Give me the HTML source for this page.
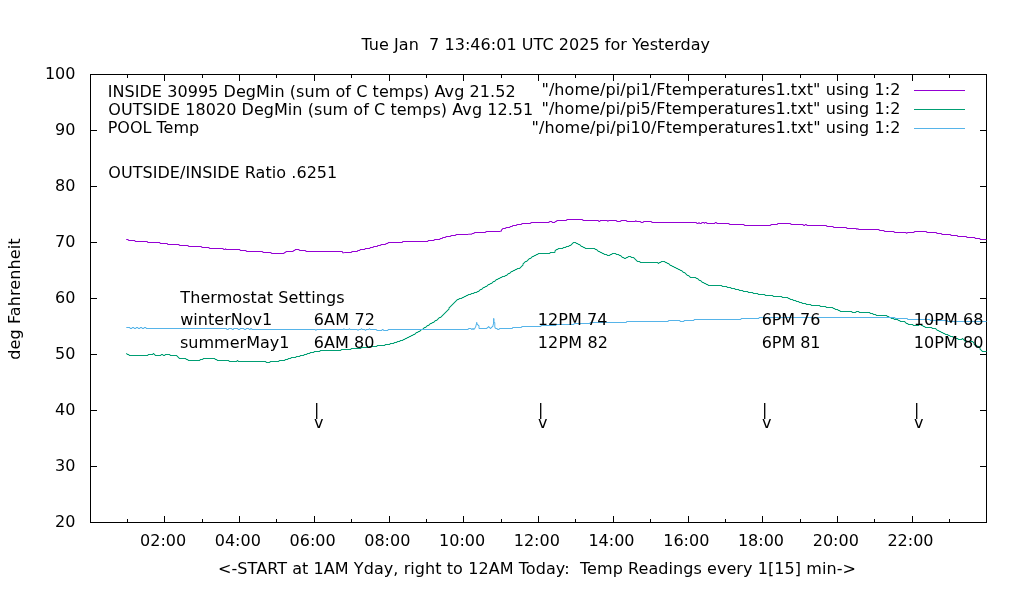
<!DOCTYPE html>
<html><head><meta charset="utf-8"><title>Temperatures</title>
<style>
html,body{margin:0;padding:0;background:#fff;}
svg{display:block}
text{font-family:"DejaVu Sans","Liberation Sans",sans-serif;font-size:16px;fill:#000;white-space:pre}
</style></head><body>
<svg width="1020" height="600" viewBox="0 0 1020 600">
<rect width="1020" height="600" fill="#fff"/>
<g shape-rendering="auto">
<rect x="90.5" y="74.5" width="896.0" height="448.0" fill="none" stroke="#000" stroke-width="1"/>
<path d="M90.5,74.5h6.5M986.5,74.5h-6.5M90.5,130.5h6.5M986.5,130.5h-6.5M90.5,186.5h6.5M986.5,186.5h-6.5M90.5,242.5h6.5M986.5,242.5h-6.5M90.5,298.5h6.5M986.5,298.5h-6.5M90.5,354.5h6.5M986.5,354.5h-6.5M90.5,410.5h6.5M986.5,410.5h-6.5M90.5,466.5h6.5M986.5,466.5h-6.5M90.5,522.5h6.5M986.5,522.5h-6.5M127.5,522.5v-3.5M127.5,74.5v3.5M164.5,522.5v-6.5M164.5,74.5v6.5M202.5,522.5v-3.5M202.5,74.5v3.5M239.5,522.5v-6.5M239.5,74.5v6.5M276.5,522.5v-3.5M276.5,74.5v3.5M314.5,522.5v-6.5M314.5,74.5v6.5M351.5,522.5v-3.5M351.5,74.5v3.5M389.5,522.5v-6.5M389.5,74.5v6.5M426.5,522.5v-3.5M426.5,74.5v3.5M463.5,522.5v-6.5M463.5,74.5v6.5M501.5,522.5v-3.5M501.5,74.5v3.5M538.5,522.5v-6.5M538.5,74.5v6.5M575.5,522.5v-3.5M575.5,74.5v3.5M613.5,522.5v-6.5M613.5,74.5v6.5M650.5,522.5v-3.5M650.5,74.5v3.5M688.5,522.5v-6.5M688.5,74.5v6.5M725.5,522.5v-3.5M725.5,74.5v3.5M762.5,522.5v-6.5M762.5,74.5v6.5M800.5,522.5v-3.5M800.5,74.5v3.5M837.5,522.5v-6.5M837.5,74.5v6.5M874.5,522.5v-3.5M874.5,74.5v3.5M912.5,522.5v-6.5M912.5,74.5v6.5M949.5,522.5v-3.5M949.5,74.5v3.5" stroke="#000" stroke-width="1" fill="none"/>
<polyline points="126.2,239.5 128.3,239.5 128.3,240.5 135.0,240.5 135.0,241.5 147.5,241.5 147.5,242.5 160.0,242.5 160.0,243.5 167.5,243.5 167.5,244.5 179.2,244.5 179.2,245.5 188.3,245.5 188.3,246.5 201.7,246.5 201.7,247.5 209.2,247.5 209.2,248.5 223.3,248.5 223.3,249.5 225.3,249.5 225.3,248.7 225.8,248.7 225.8,249.5 240.0,249.5 240.0,250.5 246.2,250.5 246.2,251.5 262.8,251.5 262.8,252.5 271.2,252.5 271.2,253.5 284.2,253.5 284.2,252.5 285.8,252.5 285.8,251.5 293.3,251.5 293.3,250.5 295.0,250.5 295.0,249.5 299.2,249.5 299.2,250.5 305.8,250.5 305.8,251.5 342.5,251.5 342.5,252.8 344.2,252.8 344.2,252.5 351.7,252.5 351.7,251.5 357.5,251.5 357.5,250.5 360.0,250.5 360.0,249.5 365.0,249.5 365.0,248.5 370.0,248.5 370.0,247.5 373.3,247.5 373.3,246.5 377.5,246.5 377.5,245.5 380.8,245.5 380.8,244.5 385.8,244.5 385.8,243.5 388.0,243.5 388.0,242.5 402.5,242.5 402.5,241.5 428.0,241.5 428.0,240.5 434.2,240.5 434.2,239.5 440.0,239.5 440.0,238.5 442.5,238.5 442.5,237.5 445.8,237.5 445.8,236.5 450.8,236.5 450.8,235.5 455.8,235.5 455.8,234.5 468.3,234.5 468.3,234.2 472.0,234.2 472.0,233.5 474.2,233.5 474.2,232.5 485.8,232.5 485.8,231.5 500.0,231.5 500.0,231.2 501.5,231.2 501.5,229.5 502.5,229.5 502.5,228.5 505.8,228.5 505.8,227.5 510.0,227.5 510.0,226.5 512.5,226.5 512.5,225.5 516.7,225.5 516.7,224.5 521.7,224.5 521.7,223.5 530.8,223.5 530.8,222.5 549.2,222.5 549.2,221.5 552.0,221.5 552.0,222.5 555.0,222.5 555.0,221.5 556.7,221.5 556.7,220.5 566.7,220.5 566.7,219.5 582.8,219.5 582.8,220.5 598.6,220.5 598.6,221.5 600.0,221.5 600.0,220.5 607.5,220.5 607.5,221.3 608.3,221.3 608.3,220.5 616.7,220.5 616.7,221.5 620.8,221.5 620.8,220.5 626.7,220.5 626.7,221.5 635.5,221.5 635.5,220.7 636.2,220.7 636.2,221.5 640.8,221.5 640.8,222.5 643.3,222.5 643.3,221.5 651.7,221.5 651.7,222.5 696.7,222.5 696.7,223.5 698.5,223.5 698.5,222.7 699.5,222.7 699.5,223.5 701.7,223.5 701.7,222.5 704.0,222.5 704.0,223.3 704.8,223.3 704.8,222.5 706.7,222.5 706.7,223.5 715.0,223.5 715.0,222.5 716.7,222.5 716.7,223.5 729.2,223.5 729.2,224.5 744.2,224.5 744.2,225.5 770.8,225.5 770.8,224.5 777.5,224.5 777.5,223.5 790.8,223.5 790.8,224.5 803.3,224.5 803.3,225.5 805.0,225.5 805.0,224.5 806.7,224.5 806.7,225.5 826.7,225.5 826.7,226.5 833.3,226.5 833.3,227.5 846.7,227.5 846.7,228.5 856.5,228.5 856.5,229.3 857.3,229.3 857.3,228.7 858.3,228.7 858.3,229.5 879.2,229.5 879.2,230.5 884.2,230.5 884.2,231.5 894.2,231.5 894.2,232.5 906.2,232.5 906.2,233.3 907.2,233.3 907.2,232.5 914.2,232.5 914.2,231.5 926.7,231.5 926.7,232.5 936.7,232.5 936.7,233.5 941.7,233.5 941.7,234.5 950.8,234.5 950.8,235.5 957.5,235.5 957.5,236.5 966.7,236.5 966.7,237.5 975.0,237.5 975.0,238.5 980.0,238.5 980.0,239.5 986.5,239.5" fill="none" stroke="#9400d3" stroke-width="1"/>
<polyline points="126.3,353.5 127.0,353.5 127.0,354.5 129.0,354.5 129.0,355.5 148.0,355.5 148.0,354.5 153.0,354.5 153.0,353.5 154.0,353.5 154.0,354.5 155.0,354.5 155.0,355.5 161.0,355.5 161.0,354.5 163.0,354.5 163.0,355.5 165.0,355.5 165.0,354.5 170.0,354.5 170.0,355.5 177.0,355.5 177.0,356.5 178.0,356.5 178.0,357.5 179.0,357.5 179.0,358.5 186.0,358.5 186.0,359.5 188.0,359.5 188.0,360.5 200.0,360.5 200.0,359.5 203.0,359.5 203.0,358.5 215.0,358.5 215.0,359.5 217.0,359.5 217.0,360.5 229.0,360.5 229.0,361.5 237.0,361.5 237.0,360.5 238.0,360.5 238.0,361.5 266.0,361.5 266.0,362.5 270.0,362.5 270.0,361.5 279.0,361.5 279.0,360.5 285.0,360.5 285.0,359.5 288.0,359.5 288.0,358.5 291.0,358.5 291.0,357.5 296.0,357.5 296.0,356.5 300.0,356.5 300.0,355.5 304.0,355.5 304.0,354.5 307.0,354.5 307.0,353.5 310.0,353.5 310.0,352.5 314.0,352.5 314.0,351.5 320.0,351.5 320.0,350.5 341.0,350.5 341.0,349.5 351.0,349.5 351.0,348.5 361.0,348.5 361.0,347.5 369.0,347.5 369.0,346.5 377.0,346.5 377.0,345.5 385.0,345.5 385.0,344.5 390.0,344.5 390.0,343.5 394.0,343.5 394.0,342.5 397.0,342.5 397.0,341.5 400.0,341.5 400.0,340.5 403.0,340.5 403.0,339.5 405.0,339.5 405.0,338.5 407.0,338.5 407.0,337.5 409.0,337.5 409.0,336.5 411.0,336.5 411.0,335.5 413.0,335.5 413.0,334.5 415.0,334.5 415.0,333.5 416.0,333.5 416.0,332.5 418.0,332.5 418.0,331.5 420.0,331.5 420.0,330.5 421.0,330.5 421.0,329.5 423.0,329.5 423.0,328.5 424.0,328.5 424.0,327.5 426.0,327.5 426.0,326.5 427.0,326.5 427.0,325.5 429.0,325.5 429.0,324.5 430.0,324.5 430.0,323.5 432.0,323.5 432.0,322.5 434.0,322.5 434.0,321.5 435.0,321.5 435.0,320.5 437.0,320.5 437.0,319.5 438.0,319.5 438.0,318.5 439.0,318.5 439.0,317.5 441.0,317.5 441.0,316.5 442.0,316.5 442.0,315.5 443.0,315.5 443.0,314.5 444.0,314.5 444.0,313.5 445.0,313.5 445.0,312.5 446.0,312.5 446.0,311.5 447.0,311.5 447.0,310.5 448.0,310.5 448.0,309.5 449.0,309.5 449.0,307.5 450.0,307.5 450.0,306.5 451.0,306.5 451.0,305.5 452.0,305.5 452.0,304.5 453.0,304.5 453.0,303.5 454.0,303.5 454.0,302.5 455.0,302.5 455.0,301.5 456.0,301.5 456.0,300.5 457.0,300.5 457.0,299.5 459.0,299.5 459.0,298.5 462.0,298.5 462.0,297.5 464.0,297.5 464.0,296.5 466.0,296.5 466.0,295.5 468.0,295.5 468.0,294.5 471.0,294.5 471.0,293.5 474.0,293.5 474.0,292.5 477.0,292.5 477.0,291.5 479.0,291.5 479.0,290.5 480.0,290.5 480.0,289.5 482.0,289.5 482.0,288.5 483.0,288.5 483.0,287.5 485.0,287.5 485.0,286.5 487.0,286.5 487.0,285.5 488.0,285.5 488.0,284.5 490.0,284.5 490.0,283.5 492.0,283.5 492.0,282.5 493.0,282.5 493.0,281.5 495.0,281.5 495.0,280.5 496.0,280.5 496.0,279.5 498.0,279.5 498.0,278.5 500.0,278.5 500.0,277.5 502.0,277.5 502.0,276.5 505.0,276.5 505.0,275.5 507.0,275.5 507.0,274.5 508.0,274.5 508.0,273.5 510.0,273.5 510.0,272.5 511.0,272.5 511.0,271.5 513.0,271.5 513.0,270.5 515.0,270.5 515.0,269.5 517.0,269.5 517.0,268.5 520.0,268.5 520.0,267.5 521.0,267.5 521.0,266.5 522.0,266.5 522.0,265.5 523.0,265.5 523.0,263.5 524.0,263.5 524.0,262.5 525.0,262.5 525.0,261.5 527.0,261.5 527.0,260.5 528.0,260.5 528.0,259.5 529.0,259.5 529.0,258.5 531.0,258.5 531.0,257.5 532.0,257.5 532.0,256.5 534.0,256.5 534.0,255.5 536.0,255.5 536.0,254.5 538.0,254.5 538.0,253.5 550.0,253.5 550.0,252.5 555.0,252.5 555.0,250.5 556.0,250.5 556.0,249.5 558.0,249.5 558.0,248.5 563.0,248.5 563.0,247.5 566.0,247.5 566.0,246.5 569.0,246.5 569.0,245.5 571.0,245.5 571.0,244.5 572.0,244.5 572.0,243.5 573.0,243.5 573.0,242.5 576.0,242.5 576.0,243.5 578.0,243.5 578.0,244.5 580.0,244.5 580.0,245.5 581.0,245.5 581.0,246.5 583.0,246.5 583.0,247.5 585.0,247.5 585.0,248.5 595.0,248.5 595.0,249.5 597.0,249.5 597.0,250.5 598.0,250.5 598.0,251.5 600.0,251.5 600.0,252.5 602.0,252.5 602.0,253.5 604.0,253.5 604.0,254.5 607.0,254.5 607.0,255.5 610.0,255.5 610.0,254.5 612.0,254.5 612.0,253.5 616.0,253.5 616.0,254.5 619.0,254.5 619.0,255.5 621.0,255.5 621.0,256.5 622.0,256.5 622.0,257.5 624.0,257.5 624.0,258.5 626.0,258.5 626.0,257.5 628.0,257.5 628.0,256.5 631.0,256.5 631.0,257.5 634.0,257.5 634.0,258.5 635.0,258.5 635.0,259.5 636.0,259.5 636.0,260.5 637.0,260.5 637.0,261.5 640.0,261.5 640.0,262.5 658.0,262.5 658.0,263.5 659.0,263.5 659.0,262.5 661.0,262.5 661.0,261.5 665.0,261.5 665.0,262.5 667.0,262.5 667.0,263.5 669.0,263.5 669.0,264.5 670.0,264.5 670.0,265.5 672.0,265.5 672.0,266.5 674.0,266.5 674.0,267.5 676.0,267.5 676.0,268.5 678.0,268.5 678.0,269.5 680.0,269.5 680.0,270.5 682.0,270.5 682.0,271.5 683.0,271.5 683.0,272.5 685.0,272.5 685.0,273.5 686.0,273.5 686.0,274.5 687.0,274.5 687.0,275.5 689.0,275.5 689.0,276.5 690.0,276.5 690.0,277.5 696.0,277.5 696.0,278.5 698.0,278.5 698.0,279.5 699.0,279.5 699.0,280.5 701.0,280.5 701.0,281.5 702.0,281.5 702.0,282.5 704.0,282.5 704.0,283.5 706.0,283.5 706.0,284.5 708.0,284.5 708.0,285.5 722.0,285.5 722.0,286.5 727.0,286.5 727.0,287.5 731.0,287.5 731.0,288.5 735.0,288.5 735.0,289.5 739.0,289.5 739.0,290.5 743.0,290.5 743.0,291.5 748.0,291.5 748.0,292.5 753.0,292.5 753.0,293.5 758.0,293.5 758.0,294.5 765.0,294.5 765.0,295.5 773.0,295.5 773.0,296.5 782.0,296.5 782.0,297.5 788.0,297.5 788.0,298.5 790.0,298.5 790.0,299.5 793.0,299.5 793.0,300.5 796.0,300.5 796.0,301.5 799.0,301.5 799.0,302.5 802.0,302.5 802.0,303.5 806.0,303.5 806.0,304.5 811.0,304.5 811.0,305.5 820.0,305.5 820.0,306.5 826.0,306.5 826.0,307.5 833.0,307.5 833.0,308.5 835.0,308.5 835.0,309.5 838.0,309.5 838.0,310.5 840.0,310.5 840.0,311.5 852.0,311.5 852.0,312.5 856.0,312.5 856.0,311.5 859.0,311.5 859.0,312.5 870.0,312.5 870.0,313.5 873.0,313.5 873.0,314.5 876.0,314.5 876.0,315.5 887.0,315.5 887.0,316.5 889.0,316.5 889.0,317.5 891.0,317.5 891.0,318.5 894.0,318.5 894.0,319.5 898.0,319.5 898.0,320.5 900.0,320.5 900.0,321.5 905.0,321.5 905.0,322.5 906.0,322.5 906.0,323.5 908.0,323.5 908.0,324.5 913.0,324.5 913.0,325.5 919.0,325.5 919.0,324.5 921.0,324.5 921.0,325.5 923.0,325.5 923.0,326.5 925.0,326.5 925.0,327.5 932.0,327.5 932.0,328.5 936.0,328.5 936.0,329.5 937.0,329.5 937.0,330.5 939.0,330.5 939.0,331.5 941.0,331.5 941.0,332.5 943.0,332.5 943.0,333.5 945.0,333.5 945.0,334.5 948.0,334.5 948.0,335.5 950.0,335.5 950.0,336.5 953.0,336.5 953.0,337.5 955.0,337.5 955.0,338.5 958.0,338.5 958.0,339.5 962.0,339.5 962.0,338.5 963.0,338.5 963.0,339.5 964.0,339.5 964.0,340.5 965.0,340.5 965.0,341.5 973.0,341.5 973.0,342.5 974.0,342.5 974.0,344.5 975.0,344.5 975.0,345.5 977.0,345.5 977.0,346.5 979.0,346.5 979.0,347.5 980.0,347.5 980.0,349.5 981.0,349.5 981.0,350.5 982.0,350.5 982.0,351.5 986.5,351.5" fill="none" stroke="#009e73" stroke-width="1"/>
<polyline points="126.3,327.5 130.0,327.5 130.0,328.5 132.0,328.5 132.0,327.5 134.0,327.5 134.0,328.5 136.0,328.5 136.0,327.5 138.0,327.5 138.0,328.5 140.0,328.5 140.0,327.5 142.0,327.5 142.0,328.5 144.0,328.5 144.0,327.5 146.0,327.5 146.0,328.5 226.7,328.5 226.7,329.5 228.5,329.5 228.5,328.5 232.0,328.5 232.0,329.5 233.5,329.5 233.5,328.5 238.0,328.5 238.0,329.5 240.0,329.5 240.0,328.5 244.0,328.5 244.0,329.5 246.0,329.5 246.0,328.5 249.0,328.5 249.0,329.5 250.5,329.5 250.5,328.5 251.7,328.5 251.7,329.5 315.5,329.5 315.5,330.3 316.3,330.3 316.3,329.5 343.5,329.5 343.5,328.8 344.3,328.8 344.3,329.5 349.0,329.5 349.0,328.8 349.8,328.8 349.8,329.5 357.5,329.5 357.5,330.3 358.5,330.3 358.5,329.5 361.0,329.5 361.0,328.8 362.0,328.8 362.0,329.5 365.0,329.5 365.0,330.3 366.0,330.3 366.0,329.5 369.0,329.5 369.0,328.8 370.0,328.8 370.0,329.5 376.7,329.5 376.7,330.5 382.0,330.5 382.0,329.5 383.3,329.5 383.3,330.5 388.0,330.5 388.0,329.5 468.3,329.5 468.3,328.5 471.3,328.5 471.3,329.5 472.5,329.5 472.5,328.5 473.5,328.5 473.5,329.5 474.2,329.5 474.2,328.5 475.0,328.5 475.0,327.5 475.5,327.5 475.5,326.5 476.0,326.5 476.0,324.5 476.5,324.5 476.5,322.5 477.0,322.5 477.0,324.5 478.0,324.5 478.0,325.5 479.0,325.5 479.0,328.5 487.1,328.5 487.1,327.5 488.3,327.5 488.3,326.5 489.0,326.5 489.0,327.5 490.0,327.5 490.0,328.5 491.0,328.5 491.0,327.5 492.0,327.5 492.0,326.5 493.0,326.5 493.0,324.5 493.5,324.5 493.5,318.5 494.0,318.5 494.0,322.5 494.8,322.5 494.8,327.5 495.3,327.5 495.3,328.5 497.3,328.5 497.3,329.5 499.2,329.5 499.2,328.5 512.5,328.5 512.5,327.5 521.7,327.5 521.7,326.5 541.0,326.5 541.0,325.5 556.0,325.5 556.0,324.5 574.0,324.5 574.0,323.5 590.0,323.5 590.0,322.5 626.5,322.5 626.5,321.5 668.3,321.5 668.3,320.5 680.0,320.5 680.0,321.5 684.0,321.5 684.0,320.5 694.0,320.5 694.0,319.5 741.0,319.5 741.0,318.5 759.0,318.5 759.0,317.5 895.0,317.5 895.0,318.5 907.5,318.5 907.5,319.5 930.0,319.5 930.0,320.5 947.5,320.5 947.5,321.5 986.5,321.5" fill="none" stroke="#56b4e9" stroke-width="1"/>
<path d="M914,90.5H965" stroke="#9400d3"/><path d="M914,109.5H965" stroke="#009e73"/><path d="M914,128.5H965" stroke="#56b4e9"/>
</g>
<g xml:space="preserve">
<text x="361.45" y="49.7" textLength="348.63" lengthAdjust="spacing">Tue Jan  7 13:46:01 UTC 2025 for Yesterday</text>
<text x="75.46" y="78.9" text-anchor="end">100</text>
<text x="75.46" y="134.9" text-anchor="end">90</text>
<text x="75.46" y="190.9" text-anchor="end">80</text>
<text x="75.46" y="246.9" text-anchor="end">70</text>
<text x="75.46" y="302.9" text-anchor="end">60</text>
<text x="75.46" y="358.9" text-anchor="end">50</text>
<text x="75.46" y="414.9" text-anchor="end">40</text>
<text x="75.46" y="470.9" text-anchor="end">30</text>
<text x="75.46" y="526.9" text-anchor="end">20</text>
<text x="163.1" y="545.8" text-anchor="middle">02:00</text>
<text x="237.8" y="545.8" text-anchor="middle">04:00</text>
<text x="312.6" y="545.8" text-anchor="middle">06:00</text>
<text x="387.3" y="545.8" text-anchor="middle">08:00</text>
<text x="462.1" y="545.8" text-anchor="middle">10:00</text>
<text x="536.8" y="545.8" text-anchor="middle">12:00</text>
<text x="611.5" y="545.8" text-anchor="middle">14:00</text>
<text x="686.3" y="545.8" text-anchor="middle">16:00</text>
<text x="761.0" y="545.8" text-anchor="middle">18:00</text>
<text x="835.8" y="545.8" text-anchor="middle">20:00</text>
<text x="910.5" y="545.8" text-anchor="middle">22:00</text>
<text x="218.00" y="573.7" textLength="637.89" lengthAdjust="spacing">&lt;-START at 1AM Yday, right to 12AM Today:  Temp Readings every 1[15] min-&gt;</text>
<text x="-60.88" y="0" textLength="121.27" lengthAdjust="spacing" transform="translate(20,298.8) rotate(-90)">deg Fahrenheit</text>
<text x="107.63" y="96.7" textLength="407.97" lengthAdjust="spacing">INSIDE 30995 DegMin (sum of C temps) Avg 21.52</text>
<text x="108.30" y="114.6" textLength="424.97" lengthAdjust="spacing">OUTSIDE 18020 DegMin (sum of C temps) Avg 12.51</text>
<text x="107.63" y="132.7" textLength="91.55" lengthAdjust="spacing">POOL Temp</text>
<text x="108.30" y="177.5" textLength="228.98" lengthAdjust="spacing">OUTSIDE/INSIDE Ratio .6251</text>
<text x="541.46" y="95" textLength="358.94" lengthAdjust="spacing">"/home/pi/pi1/Ftemperatures1.txt" using 1:2</text>
<text x="541.46" y="114" textLength="358.94" lengthAdjust="spacing">"/home/pi/pi5/Ftemperatures1.txt" using 1:2</text>
<text x="531.56" y="133" textLength="368.84" lengthAdjust="spacing">"/home/pi/pi10/Ftemperatures1.txt" using 1:2</text>
<text x="180.35" y="302.5" textLength="164.13" lengthAdjust="spacing">Thermostat Settings</text>
<text x="180.13" y="324.8" textLength="92.15" lengthAdjust="spacing">winterNov1</text>
<text x="179.93" y="347.7" textLength="109.54" lengthAdjust="spacing">summerMay1</text>
<text x="313.70" y="324.8" textLength="61.32" lengthAdjust="spacing">6AM 72</text>
<text x="313.70" y="347.8" textLength="60.78" lengthAdjust="spacing">6AM 80</text>
<text x="314" y="415">|</text>
<text x="314" y="428">v</text>
<text x="537.70" y="324.8" textLength="69.66" lengthAdjust="spacing">12PM 74</text>
<text x="537.70" y="347.8" textLength="70.36" lengthAdjust="spacing">12PM 82</text>
<text x="538" y="415">|</text>
<text x="538" y="428">v</text>
<text x="761.70" y="324.8" textLength="58.62" lengthAdjust="spacing">6PM 76</text>
<text x="761.70" y="347.8" textLength="58.79" lengthAdjust="spacing">6PM 81</text>
<text x="762" y="415">|</text>
<text x="762" y="428">v</text>
<text x="913.70" y="324.8" textLength="69.85" lengthAdjust="spacing">10PM 68</text>
<text x="913.70" y="347.8" textLength="69.82" lengthAdjust="spacing">10PM 80</text>
<text x="914" y="415">|</text>
<text x="914" y="428">v</text>
</g>
</svg>
</body></html>
